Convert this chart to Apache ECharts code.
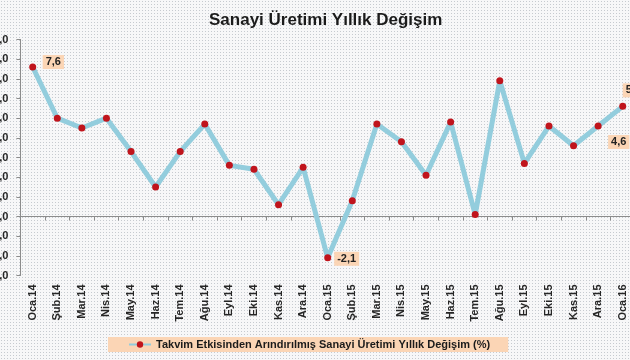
<!DOCTYPE html>
<html><head><meta charset="utf-8">
<script src="https://cdn.jsdelivr.net/npm/echarts@6/dist/echarts.min.js"></script>
<style>html,body{margin:0;padding:0;background:#fff}#c{width:630px;height:360px}</style>
</head><body><div id="c"></div>
<script>
var categories = ['Oca.14','Şub.14','Mar.14','Nis.14','May.14','Haz.14','Tem.14','Ağu.14','Eyl.14','Eki.14','Kas.14','Ara.14',
  'Oca.15','Şub.15','Mar.15','Nis.15','May.15','Haz.15','Tem.15','Ağu.15','Eyl.15','Eki.15','Kas.15','Ara.15','Oca.16'];
var values = [7.6, 5.0, 4.5, 5.0, 3.3, 1.5, 3.3, 4.7, 2.6, 2.4, 0.6, 2.5,
  -2.1, 0.8, 4.7, 3.8, 2.1, 4.8, 0.1, 6.9, 2.7, 4.6, 3.6, 4.6, 5.6];
var labeledIdx = [0, 12, 23, 24];
var seriesName = 'Takvim Etkisinden Arındırılmış Sanayi Üretimi Yıllık Değişim (%)';
var yMin = -3, yMax = 9, yStep = 1;

var FONT = '"Liberation Sans", Arial, sans-serif';
function fmt(v){ return v.toFixed(1).replace('.', ','); }

// dotted background pattern
var pc = document.createElement('canvas'); pc.width = 3; pc.height = 3;
var pctx = pc.getContext('2d');
pctx.fillStyle = '#f7f7f8'; pctx.fillRect(0,0,3,3);
pctx.fillStyle = '#c6cacf'; pctx.fillRect(1,1,1,1);

var labelOffsets = {0:[1.5,-5], 12:[-2,1], 23:[1.5,16], 24:[-8.5,-16]};
var data = values.map(function(v, i){
  var item = {value: v};
  if (labeledIdx.indexOf(i) >= 0) {
    item.label = {show: true, position: 'right', distance: 5, offset: labelOffsets[i],
      formatter: function(p){ return fmt(p.value); },
      backgroundColor: '#FBD5B5', padding: [2,3,1,3], color: '#222',
      fontFamily: FONT, fontWeight: 'bold', fontSize: 11};
  }
  return item;
});

var chart = echarts.init(document.getElementById('c'), null, {renderer: 'canvas'});
chart.setOption({
  backgroundColor: {image: pc, repeat: 'repeat'},
  animation: false,
  title: {text: 'Sanayi Üretimi Yıllık Değişim', left: 204, top: 7,
    textStyle: {fontFamily: FONT, fontWeight: 'bold', fontSize: 17, color: '#1b1b1b'}},
  legend: {data: [seriesName], left: 108, top: 337, backgroundColor: '#FBD5B5',
    padding: [2, 18, 2, 20], itemWidth: 22, itemHeight: 8, itemGap: 2,
    textStyle: {fontFamily: FONT, fontWeight: 'bold', fontSize: 11, color: '#1b1b1b'}},
  grid: {left: 20.4, right: -5, top: 39.5, bottom: 84.5, containLabel: false, outerBoundsMode: 'none'},
  xAxis: [
    {type: 'category', data: categories, boundaryGap: true, position: 'bottom',
     axisLine: {show: false, onZero: false}, axisTick: {show: false},
     axisLabel: {rotate: 90, interval: 0, margin: 9, color: '#262626',
       fontFamily: FONT, fontWeight: 'bold', fontSize: 11}},
    {type: 'category', data: categories, boundaryGap: true, position: 'top',
     axisLine: {show: true, onZero: true, lineStyle: {color: '#8c8c8c', width: 1}},
     axisTick: {show: true, inside: true, length: 4, interval: 0, lineStyle: {color: '#8c8c8c'}},
     axisLabel: {show: false}}
  ],
  yAxis: {type: 'value', min: yMin, max: yMax, interval: yStep,
    axisLine: {show: true, lineStyle: {color: '#8c8c8c'}},
    axisTick: {show: true, length: 4, lineStyle: {color: '#8c8c8c'}},
    splitLine: {show: false},
    axisLabel: {margin: 12, color: '#262626', fontFamily: FONT, fontWeight: 'bold', fontSize: 11,
      formatter: function(v){ return fmt(v); }}},
  series: [{
    name: seriesName, type: 'line', xAxisIndex: 0, data: data,
    symbol: 'circle', symbolSize: 7,
    lineStyle: {color: '#93CDDD', width: 5},
    itemStyle: {color: '#C0141C'},
    label: {show: false}
  }]
});
</script></body></html>
